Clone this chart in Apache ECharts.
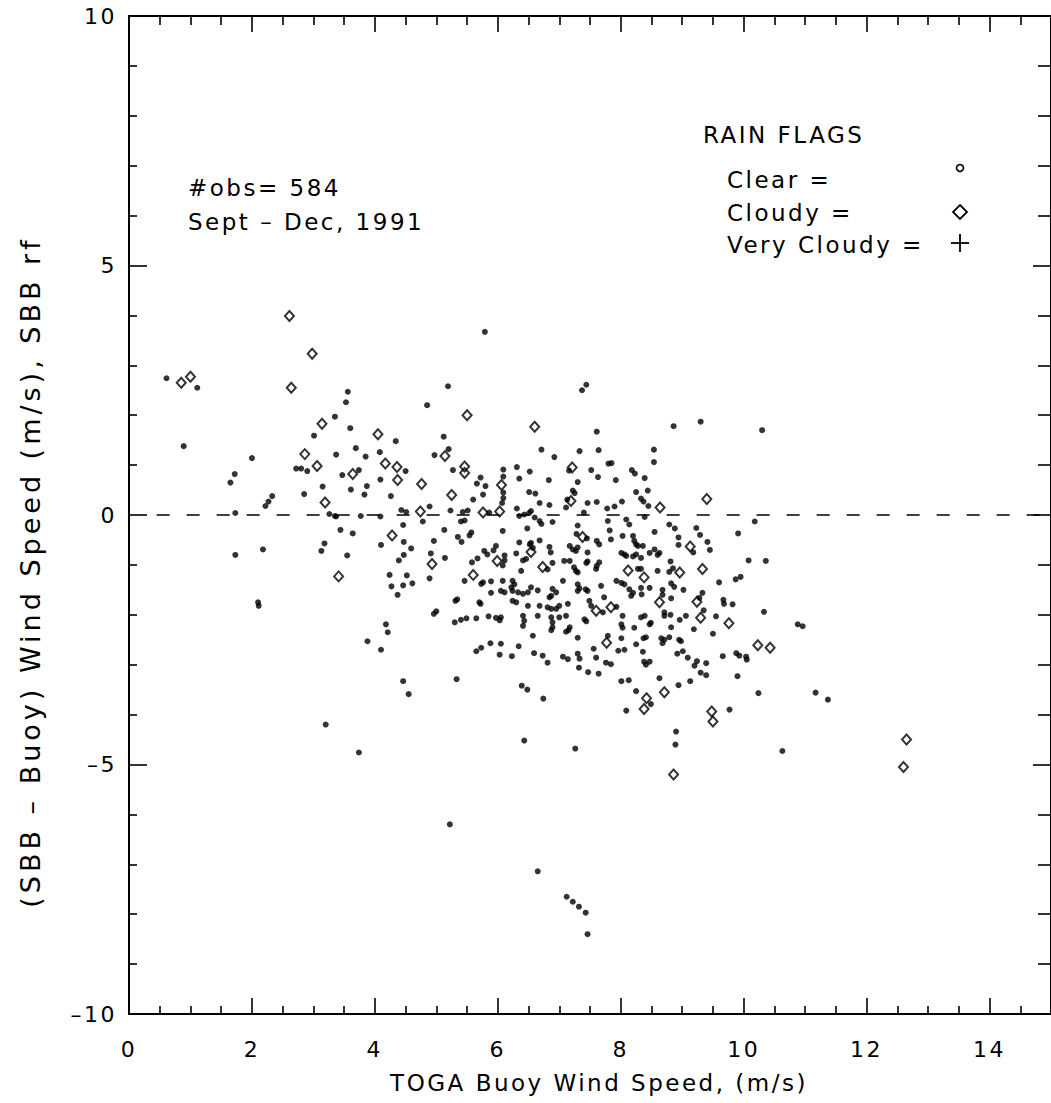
<!DOCTYPE html>
<html><head><meta charset="utf-8">
<script src="https://cdn.jsdelivr.net/npm/echarts@6.0.0/dist/echarts.min.js"></script>
<style>
html,body{margin:0;padding:0;background:#fff}
#c{width:1051px;height:1103px}
#c text{letter-spacing:2.5px}
#c text[style*="27px"]{letter-spacing:4px}
</style>
</head><body><div id="c"></div>
<script>
// Clear (small dots)
const clearPts = [
[0.61,2.74],[1.11,2.55],[0.89,1.38],[3.56,2.47],[3.53,2.26],[3.35,1.97],[3.01,1.59],[3.6,1.74],[4.85,2.2],[4.34,1.48],[5.12,1.57],[5.19,2.58],
[2.0,1.14],[1.72,0.82],[1.65,0.65],[2.33,0.38],[2.27,0.27],[2.22,0.18],[1.73,0.04],[2.72,0.93],[2.8,0.93],[2.9,0.88],[3.37,1.21],[3.69,1.34],[3.85,1.17],[3.47,0.8],[3.74,0.9],[3.15,0.57],[2.85,0.42],[3.26,0.02],[3.61,0.51],[3.87,0.58],[3.83,0.41],[4.09,0.71],[4.08,1.26],[4.5,0.88],[4.26,0.38],[3.37,-0.03],[3.77,-0.02],[4.09,-0.03],[4.43,0.1],[4.51,0.06],[4.89,0.17],[4.78,-0.13],[5.13,-0.3],[4.96,-0.52],[3.44,-0.3],[3.64,-0.37],[4.46,-0.2],[4.47,-0.54],[4.59,-0.67],[4.47,-0.8],[4.39,-0.91],[4.1,-0.6],[3.18,-0.57],[3.13,-0.72],[3.55,-0.81],[2.18,-0.69],[1.73,-0.8],[4.97,1.2],
[2.1,-1.75],[2.11,-1.82],[3.2,-4.2],[3.74,-4.76],
[3.88,-2.53],[4.21,-2.35],[4.1,-2.7],[4.46,-3.33],[4.55,-3.59],[5.33,-3.29],[5.65,-2.73],[5.73,-2.66],[5.88,-2.57],
[5.22,-6.2],[6.65,-7.14],[7.12,-7.65],[7.22,-7.75],[7.32,-7.85],[7.43,-7.97],[7.46,-8.4],
[5.79,3.67],[5.2,1.32],[5.27,0.9],[5.72,0.75],[5.66,0.63],[5.8,0.58],[5.76,0.41],[5.6,0.31],[6.09,0.91],[6.09,0.77],[6.09,0.45],[6.09,0.34],[6.07,0.24],[6.31,0.96],[6.35,0.73],[6.52,0.87],[6.71,1.31],[6.92,1.16],[6.83,0.7],[6.51,0.46],[6.61,0.43],[6.68,0.24],[6.31,0.13],[7.37,2.5],[7.44,2.61],[7.61,1.67],[7.33,1.28],[7.64,1.3],[7.16,0.89],[7.52,0.9],[7.63,0.76],[7.3,0.66],[7.22,0.49],[7.25,0.44],[7.13,0.31],[7.11,0.15],[7.46,0.24],[7.61,0.26],[7.8,1.03],[7.85,1.04],[7.92,0.7],[8.02,0.27],[7.78,0.13],[7.9,0.17],[8.18,0.9],[8.23,0.83],[8.39,0.74],[8.54,1.31],[8.54,1.06],[8.86,1.78],[9.3,1.87],[8.25,0.46],[8.44,0.49],[8.33,0.33],[8.37,0.27],[8.45,0.18],[9.91,-0.37],[9.6,-1.35],[9.87,-1.29],[9.95,-1.24],
[10.18,-0.13],[10.08,-0.91],[10.36,-0.92],[10.33,-1.94],[10.88,-2.19],[10.96,-2.23],[9.82,-1.79],[9.67,-1.7],[9.68,-1.78],[9.55,-2.03],[9.19,-2.29],[9.33,-1.56],[9.28,-1.66],[9.35,-1.91],[9.06,-2.02],[8.96,-2.1],[8.82,-2.25],[8.81,-0.93],[8.85,-1.07],[8.79,-1.14],[8.82,-1.37],[8.87,-1.44],[8.82,-1.67],[9.02,-1.5],[8.79,-0.19],[8.88,-0.27],[9.23,-0.26],[9.29,-0.4],[8.94,-0.45],[8.94,-0.6],[9.18,-0.75],[9.41,-0.54],[9.45,-0.7],[8.81,-2.0],
[3.35,-0.02],[5.23,0.09],[5.43,0.06],[5.51,0.09],[5.86,0.05],[5.4,-0.13],[5.46,-0.11],[5.57,-0.35],[5.54,-0.41],[5.35,-0.44],[5.41,-0.54],[4.91,-0.77],[5.97,-0.62],[5.93,-0.71],[5.78,-0.72],[5.83,-0.79],[5.14,-0.86],[5.58,-0.95],[5.67,-0.87],[4.24,-1.2],[4.52,-1.21],[4.27,-1.43],[4.46,-1.41],[4.61,-1.37],[4.37,-1.6],[4.89,-1.27],[5.46,-1.32],[5.76,-1.35],[5.73,-1.38],[5.89,-1.33],[5.89,-1.56],[5.34,-1.69],[5.31,-1.72],[5.7,-1.75],[5.72,-1.78],[5.0,-1.93],[4.96,-1.98],[5.3,-2.15],[5.4,-2.1],[5.49,-2.07],[5.65,-2.07],[5.85,-2.03],[5.97,-2.06],[4.18,-2.19],
[6.84,0.2],[6.35,-0.02],[6.43,0.01],[6.51,0.04],[6.54,0.08],[6.6,-0.05],[6.68,-0.12],[6.71,-0.18],[6.89,-0.14],[7.4,0.05],[6.08,-0.32],[6.48,-0.27],[7.3,-0.21],[7.79,-0.12],[7.82,-0.31],[8.09,-0.09],[8.14,-0.19],[8.39,-0.04],[8.55,-0.34],[7.28,-0.38],[7.45,-0.47],[7.61,-0.52],[7.65,-0.59],[7.84,-0.49],[8.03,-0.42],[8.2,-0.42],[8.22,-0.52],[8.25,-0.59],[8.28,-0.62],[8.36,-0.62],[8.55,-0.69],[8.63,-0.76],[6.35,-0.55],[6.52,-0.59],[6.54,-0.56],[6.57,-0.66],[6.68,-0.51],[6.84,-0.64],[6.86,-0.75],[7.17,-0.62],[7.22,-0.69],[7.27,-0.72],[7.3,-0.65],[7.46,-0.75],[8.01,-0.76],[8.06,-0.79],[8.09,-0.82],[8.2,-0.83],[8.25,-0.79],[8.33,-0.86],[8.47,-0.76],[8.6,-0.8],[6.3,-0.77],[6.11,-0.81],[6.11,-0.91],[6.08,-1.01],[6.41,-0.91],[6.46,-0.88],[6.81,-1.09],[6.89,-0.96],[7.08,-0.92],[7.17,-0.92],[7.24,-1.05],[7.27,-1.12],[7.3,-1.15],[7.44,-0.96],[7.46,-0.93],[7.6,-1.08],[7.61,-1.02],[7.65,-0.95],[6.38,-1.12],[8.28,-1.08],[8.33,-1.08],[8.6,-1.12],[6.08,-1.32],[6.24,-1.32],[6.27,-1.39],[6.22,-1.45],[6.24,-1.52],[6.11,-1.55],[6.05,-1.52],[6.33,-1.55],[6.41,-1.58],[6.49,-1.55],[6.65,-1.51],[6.54,-1.45],[6.89,-1.48],[6.87,-1.62],[6.84,-1.65],[6.95,-1.55],[7.06,-1.32],[7.3,-1.39],[7.33,-1.47],[7.3,-1.52],[7.46,-1.52],[7.43,-1.49],[7.68,-1.42],[7.93,-1.32],[8.01,-1.36],[8.06,-1.39],[8.14,-1.49],[8.2,-1.56],[8.17,-1.62],[8.33,-1.46],[8.47,-1.46],[8.34,-1.59],[8.68,-1.5],[8.68,-1.6],[6.24,-1.72],[6.3,-1.75],[6.49,-1.82],[6.68,-1.82],[6.81,-1.85],[6.87,-1.88],[6.95,-1.88],[7.0,-1.82],[7.14,-1.78],[7.49,-1.72],[7.52,-1.82],[7.73,-1.65],[7.93,-1.84],[6.05,-2.05],[6.03,-2.11],[6.41,-2.02],[6.43,-2.12],[6.41,-2.22],[6.65,-2.02],[6.87,-2.05],[6.89,-2.15],[6.89,-2.25],[7.0,-2.05],[7.11,-2.02],[7.41,-2.09],[7.44,-2.13],[7.71,-1.95],[8.03,-2.02],[8.01,-2.19],[8.03,-2.26],[8.22,-2.26],[8.33,-2.05],[8.39,-2.02],[8.47,-2.19],[8.49,-2.16],[8.71,-2.02],[8.71,-1.95],[7.17,-2.25],
[6.57,-2.42],[6.05,-2.58],[6.03,-2.8],[6.34,-2.63],[6.23,-2.83],[6.59,-2.77],[6.73,-2.82],[6.81,-2.96],[6.87,-2.31],[7.11,-2.34],[7.15,-2.31],[7.3,-2.46],[7.06,-2.84],[7.14,-2.89],[7.3,-2.78],[7.33,-2.88],[7.32,-3.06],[7.47,-3.15],[7.64,-3.18],[7.56,-2.68],[7.6,-2.86],[7.79,-2.42],[7.76,-2.96],[7.84,-2.99],[8.01,-2.47],[7.96,-2.72],[8.06,-2.7],[8.25,-2.59],[8.37,-2.47],[8.41,-2.45],[8.36,-2.74],[8.38,-2.94],[8.41,-3.0],[8.47,-2.94],[8.66,-2.47],[8.68,-2.57],[8.71,-2.5],[8.63,-3.27],[8.01,-3.33],[8.13,-3.31],[8.25,-3.53],[6.39,-3.42],[6.48,-3.5],[6.74,-3.68],[8.49,-3.79],[8.09,-3.92],[6.43,-4.52],[7.26,-4.68],
[8.95,-2.5],[8.98,-2.53],[8.79,-2.45],[9.5,-2.38],[8.92,-2.78],[9.01,-2.73],[9.09,-2.86],[9.2,-3.02],[9.24,-2.93],[9.39,-2.97],[9.3,-3.16],[9.39,-3.21],[9.13,-3.33],[8.94,-3.41],[9.66,-2.83],[9.88,-2.77],[9.93,-2.82],[10.04,-2.84],[10.05,-2.9],[9.9,-3.23],[10.24,-3.57],[11.17,-3.56],[11.37,-3.7],[9.77,-3.9],[8.9,-4.34],[8.89,-4.6],[10.63,-4.73],
[10.3,1.7]
];
// Cloudy (open diamonds)
const cloudyPts = [
[0.85,2.65],[1.0,2.77],[2.61,3.99],[2.98,3.23],[2.64,2.55],[3.14,1.83],[4.05,1.62],[2.86,1.22],[3.06,0.98],[3.64,0.82],[3.19,0.25],[4.17,1.03],[4.36,0.96],[4.37,0.7],[4.76,0.62],[4.74,0.07],[4.28,-0.41],[4.93,-0.98],[5.14,1.18],[5.5,2.0],[5.46,0.97],[5.46,0.84],[6.06,0.6],[6.6,1.77],[7.21,0.95],[7.19,0.28],[8.64,0.15],[9.4,0.32],[9.76,-2.17],[9.3,-2.06],[9.24,-1.74],[9.33,-1.08],[8.96,-1.15],[9.13,-0.63],[5.25,0.4],[5.76,0.05],[6.03,0.07],[5.99,-0.92],[3.41,-1.23],[5.6,-1.2],[7.38,-0.44],[6.54,-0.74],[6.73,-1.04],[8.12,-1.11],[8.38,-1.25],[8.63,-1.75],[7.6,-1.92],[7.84,-1.85],[7.77,-2.56],[8.42,-3.67],[8.38,-3.89],[8.71,-3.55],[10.23,-2.61],[10.43,-2.66],[9.48,-3.94],[9.5,-4.14],[8.86,-5.2],
[12.65,-4.5],[12.6,-5.05]
];
// Very cloudy (plus) - none plotted
const veryCloudyPts = [];

const xMin = 0, xMax = 15, xStep = 2;
const yMin = -10, yMax = 10, yStep = 5;
const zeroLineStart = 0.45;

const FONT = 'DejaVu Sans';
const chart = echarts.init(document.getElementById('c'), null, {renderer:'svg'});

const axisLineStyle = {show:true, onZero:false, lineStyle:{color:'#000', width:2}};
function fmt(v){ return v < 0 ? '\u2013' + Math.abs(v) : String(v); }

chart.setOption({
  animation:false,
  backgroundColor:'#fff',
  grid:{left:129, top:16, width:924, height:998},
  xAxis:[
    {type:'value', position:'bottom', min:xMin, max:xMax, interval:xStep,
      axisLine:axisLineStyle, splitLine:{show:false},
      axisTick:{show:true, inside:true, length:16, lineStyle:{color:'#000', width:1.6}},
      minorTick:{show:true, splitNumber:4, length:8, lineStyle:{color:'#000', width:1.6}},
      axisLabel:{show:true, margin:24, color:'#000', fontSize:22, fontFamily:FONT, showMaxLabel:false, formatter:fmt}
    },
    {type:'value', position:'top', min:xMin, max:xMax, interval:xStep,
      axisLine:axisLineStyle, splitLine:{show:false},
      axisTick:{show:true, inside:true, length:16, lineStyle:{color:'#000', width:1.6}},
      minorTick:{show:true, splitNumber:4, length:9, lineStyle:{color:'#000', width:1.6}},
      axisLabel:{show:false}
    }
  ],
  yAxis:[
    {type:'value', position:'left', min:yMin, max:yMax, interval:yStep,
      axisLine:axisLineStyle, splitLine:{show:false},
      axisTick:{show:true, inside:true, length:18, lineStyle:{color:'#000', width:1.6}},
      minorTick:{show:true, splitNumber:5, length:8, lineStyle:{color:'#000', width:1.6}},
      axisLabel:{show:true, margin:12, color:'#000', fontSize:22, fontFamily:FONT, formatter:fmt}
    },
    {type:'value', position:'right', min:yMin, max:yMax, interval:yStep,
      axisLine:axisLineStyle, splitLine:{show:false},
      axisTick:{show:true, inside:true, length:18, lineStyle:{color:'#000', width:1.6}},
      minorTick:{show:true, splitNumber:5, length:13, lineStyle:{color:'#000', width:1.6}},
      axisLabel:{show:false}
    }
  ],
  series:[
    {name:'Clear', type:'scatter', xAxisIndex:0, yAxisIndex:0, data:clearPts,
      symbol:'circle', symbolSize:6, itemStyle:{color:'#000'}, silent:true,
      markLine:{silent:true, symbol:'none', label:{show:false},
        lineStyle:{color:'#000', type:[13,17], width:1.5},
        data:[[{coord:[zeroLineStart,0]},{coord:[xMax,0]}]]}
    },
    {name:'Cloudy', type:'scatter', xAxisIndex:0, yAxisIndex:0, data:cloudyPts,
      symbol:'diamond', symbolSize:[9,10], silent:true,
      itemStyle:{color:'rgba(0,0,0,0)', borderColor:'#000', borderWidth:2}
    },
    {name:'Very Cloudy', type:'scatter', xAxisIndex:0, yAxisIndex:0, data:veryCloudyPts,
      symbol:'path://M0,5L10,5M5,0L5,10', symbolSize:14, silent:true,
      itemStyle:{color:'none', borderColor:'#000', borderWidth:1.8}
    }
  ],
  graphic:[
    {type:'text', x:188, y:188, style:{text:'#obs= 584', fill:'#000', fontSize:23, fontFamily:FONT, align:'left', verticalAlign:'middle'}},
    {type:'text', x:188, y:222, style:{text:'Sept \u2013 Dec, 1991', fill:'#000', fontSize:23, fontFamily:FONT, align:'left', verticalAlign:'middle'}},
    {type:'text', x:703, y:135, style:{text:'RAIN FLAGS', fill:'#000', fontSize:23, fontFamily:FONT, align:'left', verticalAlign:'middle'}},
    {type:'text', x:727, y:180, style:{text:'Clear =', fill:'#000', fontSize:23, fontFamily:FONT, align:'left', verticalAlign:'middle'}},
    {type:'text', x:727, y:213, style:{text:'Cloudy =', fill:'#000', fontSize:23, fontFamily:FONT, align:'left', verticalAlign:'middle'}},
    {type:'text', x:727, y:245, style:{text:'Very Cloudy =', fill:'#000', fontSize:23, fontFamily:FONT, align:'left', verticalAlign:'middle'}},
    {type:'circle', shape:{cx:960, cy:168, r:3.5}, style:{fill:'none', stroke:'#000', lineWidth:1.6}},
    {type:'polygon', shape:{points:[[960,205],[967,212],[960,219],[953,212]]}, style:{fill:'none', stroke:'#000', lineWidth:1.8}},
    {type:'line', shape:{x1:951,y1:243,x2:969,y2:243}, style:{stroke:'#000', lineWidth:1.8}},
    {type:'line', shape:{x1:960,y1:234,x2:960,y2:252}, style:{stroke:'#000', lineWidth:1.8}},
    {type:'text', x:599, y:1083, style:{text:'TOGA Buoy Wind Speed, (m/s)', fill:'#000', fontSize:23, fontFamily:FONT, align:'center', verticalAlign:'middle'}},
    {type:'text', x:30, y:572, rotation:Math.PI/2, style:{text:'(SBB \u2013 Buoy) Wind Speed (m/s), SBB rf', fill:'#000', fontSize:27, fontFamily:FONT, align:'center', verticalAlign:'middle'}}
  ]
});
</script>
</body></html>
